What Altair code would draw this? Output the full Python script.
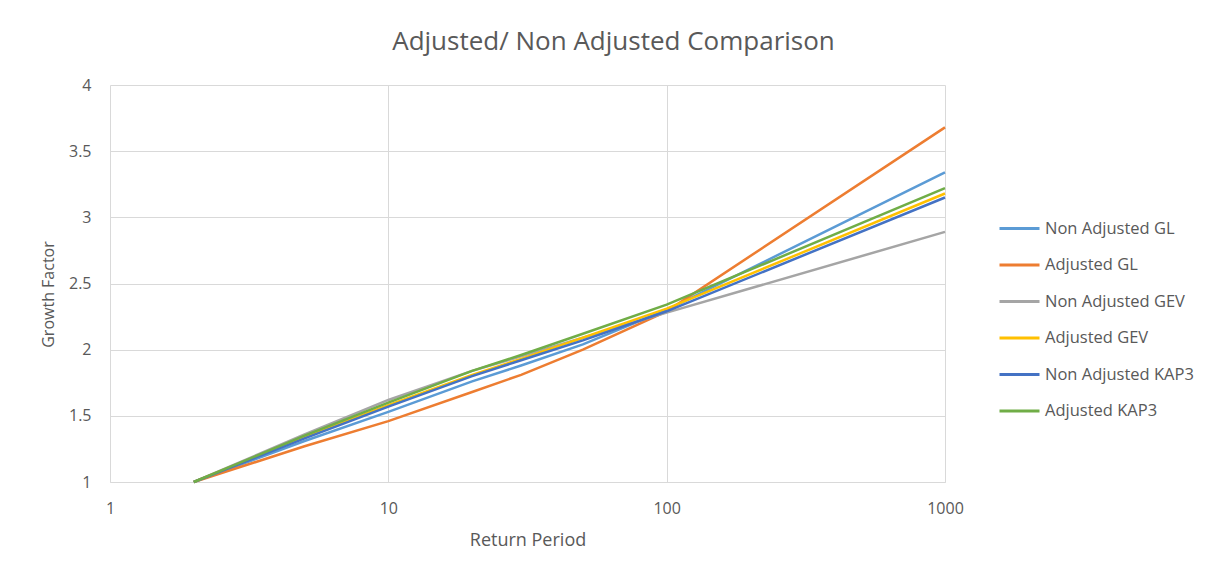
import altair as alt
import pandas as pd

return_periods = [2, 5, 10, 20, 30, 50, 100, 1000]
series_names = ["Non Adjusted GL", "Adjusted GL", "Non Adjusted GEV",
                "Adjusted GEV", "Non Adjusted KAP3", "Adjusted KAP3"]
non_adj_gl = [1.0, 1.31, 1.53, 1.76, 1.88, 2.04, 2.30, 3.34]
adj_gl = [1.0, 1.27, 1.46, 1.68, 1.81, 2.00, 2.29, 3.68]
non_adj_gev = [1.0, 1.36, 1.62, 1.84, 1.95, 2.09, 2.28, 2.89]
adj_gev = [1.0, 1.34, 1.58, 1.81, 1.93, 2.09, 2.31, 3.18]
non_adj_kap3 = [1.0, 1.33, 1.57, 1.80, 1.92, 2.07, 2.29, 3.15]
adj_kap3 = [1.0, 1.35, 1.60, 1.84, 1.96, 2.12, 2.34, 3.22]
colors = ["#5B9BD5", "#ED7D31", "#A5A5A5", "#FFC000", "#4472C4", "#70AD47"]
x_ticks = [1, 10, 100, 1000]
y_ticks = [1, 1.5, 2, 2.5, 3, 3.5, 4]

all_series = [non_adj_gl, adj_gl, non_adj_gev, adj_gev, non_adj_kap3, adj_kap3]
rows = []
for i, (name, vals) in enumerate(zip(series_names, all_series)):
    for rp, v in zip(return_periods, vals):
        rows.append({"series": name, "order": i, "rp": rp, "gf": v})
df = pd.DataFrame(rows)

FONT = "Open Sans"
GREY = "#595959"

chart = alt.Chart(df).mark_line(strokeWidth=2.5).encode(
    x=alt.X("rp:Q", title="Return Period",
            scale=alt.Scale(type="log", domain=[1, 1000]),
            axis=alt.Axis(values=x_ticks, format="d", grid=True, gridColor="#d9d9d9",
                          domainColor="#d9d9d9", ticks=False, labelPadding=18,
                          labelFlush=False, titlePadding=15, titleFontSize=18)),
    y=alt.Y("gf:Q", title="Growth Factor",
            scale=alt.Scale(domain=[1, 4], nice=False, zero=False),
            axis=alt.Axis(values=y_ticks, format="~g", grid=True, gridColor="#d9d9d9",
                          domain=False, ticks=False, labelPadding=19,
                          labelFlush=False, titlePadding=12, titleY=209)),
    color=alt.Color("series:N", sort=series_names,
                    scale=alt.Scale(domain=series_names, range=colors),
                    legend=alt.Legend(title=None, orient="none", legendX=888, legendY=122,
                                      symbolType="stroke", symbolSize=1600,
                                      symbolStrokeWidth=3, rowPadding=6.5,
                                      labelFontSize=16.5, labelColor=GREY, labelFont=FONT,
                                      labelOffset=4)),
    order=alt.Order("order:Q"),
    detail="series:N",
).properties(
    width=835, height=397,
    title=alt.TitleParams("Adjusted/ Non Adjusted Comparison", fontSize=26,
                          font=FONT, color=GREY, fontWeight="normal",
                          anchor="middle", dx=86, offset=22),
    autosize=alt.AutoSizeParams(type="none"),
    padding={"left": 102, "top": 77, "right": 250, "bottom": 75},
).configure_axis(
    labelFont=FONT, titleFont=FONT, labelFontSize=16, titleFontSize=16,
    labelColor=GREY, titleColor=GREY, titleFontWeight="normal",
).configure_view(stroke=None)

chart.save("out.html", embed_options={"renderer": "svg", "actions": False})
